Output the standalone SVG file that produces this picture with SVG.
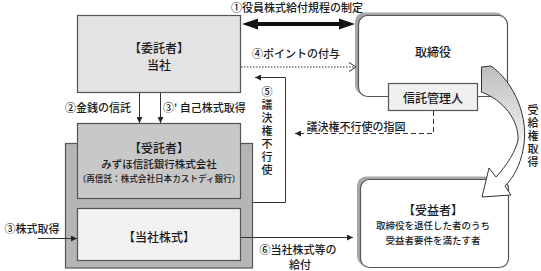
<svg xmlns="http://www.w3.org/2000/svg" width="541" height="271" viewBox="0 0 541 271">
<defs>
<style>
text{font-family:"Noto Sans CJK JP","Noto Sans CJK SC",sans-serif;fill:#1a1a1a;dominant-baseline:central;font-weight:500;}
.c{text-anchor:middle;}
.box{stroke:#555;stroke-width:1.2;}
.ln{stroke:#333;stroke-width:1;fill:none;}
.l11{font-size:11px;}
.t12{font-size:12px;}
.v{font-size:11px;writing-mode:vertical-rl;letter-spacing:2px;text-anchor:start;}
</style>
<marker id="ah" viewBox="0 0 6 6" markerWidth="6" markerHeight="6" refX="6" refY="3" orient="auto" markerUnits="userSpaceOnUse">
<path d="M0,0 L6,3 L0,6 z" fill="#222"/>
</marker>
<linearGradient id="g" x1="0" y1="66" x2="0" y2="160" gradientUnits="userSpaceOnUse">
<stop offset="0" stop-color="#bdbdbd"/>
<stop offset="0.85" stop-color="#f4f4f4"/>
<stop offset="1" stop-color="#fff"/>
</linearGradient>
</defs>

<g id="trust-outer">
<rect x="65.5" y="143.5" width="187" height="124.5" fill="#b5b5b5" class="box"/>
</g>

<g id="itakusha">
<rect x="77.5" y="15.5" width="163" height="77" fill="#e3e3e3" class="box"/>
<text x="159" y="47" class="c t12">【委託者】</text>
<text x="159" y="64" class="c t12">当社</text>
</g>

<g id="jutakusha">
<rect x="77.5" y="123.5" width="163" height="75" fill="#c8c8c8" class="box"/>
<text x="159" y="147" class="c t12">【受託者】</text>
<text x="159" y="163" class="c" style="font-size:10.5px">みずほ信託銀行株式会社</text>
<text x="159" y="178" class="c" style="font-size:8.6px">（再信託：株式会社日本カストディ銀行）</text>
</g>

<g id="toushakabushiki">
<rect x="77.5" y="208.5" width="163" height="52" fill="#f2f2f2" class="box"/>
<text x="159" y="236" class="c t12">【当社株式】</text>
</g>

<g id="torishimariyaku">
<rect x="355" y="12.5" width="150" height="82" rx="9" fill="#a8a8a8"/>
<rect x="358.5" y="15.5" width="149" height="81" rx="9" fill="#fff" class="box"/>
<text x="433" y="51" class="c t12">取締役</text>
</g>

<g id="shintakanrinin">
<rect x="388.5" y="83.5" width="89" height="27" fill="#f0f0f0" class="box"/>
<text x="433" y="97" class="c t12">信託管理人</text>
</g>

<g id="jueki">
<rect x="357" y="176.5" width="149" height="89" rx="9" fill="#a8a8a8"/>
<rect x="360.5" y="179.5" width="148" height="88" rx="9" fill="#fff" class="box"/>
<text x="433" y="209" class="c t12">【受益者】</text>
<text x="433" y="225" class="c" style="font-size:9.5px">取締役を退任した者のうち</text>
<text x="433" y="240" class="c" style="font-size:9.5px">受益者要件を満たす者</text>
</g>

<g id="connectors">
<polygon points="242,24 258,18.5 258,22 339,22 339,18.5 355,24 339,29.5 339,26 258,26 258,29.5" fill="#111"/>
<line x1="241" y1="67" x2="355" y2="67" stroke="#333" stroke-width="1" stroke-dasharray="1.5,1.5"/>
<polyline points="349,62.5 356,67 349,71.5" class="ln"/>
<polyline points="252.5,202.5 285.5,202.5 285.5,77.5 255,77.5" class="ln" marker-end="url(#ah)"/>
<line x1="139.5" y1="93" x2="139.5" y2="123" class="ln" marker-end="url(#ah)"/>
<line x1="160.5" y1="93" x2="160.5" y2="123" class="ln" marker-end="url(#ah)"/>
<line x1="38" y1="238.5" x2="77" y2="238.5" class="ln" marker-end="url(#ah)"/>
<line x1="241" y1="237.5" x2="353" y2="237.5" class="ln" marker-end="url(#ah)"/>
<polyline points="433.5,111 433.5,133.5 295,133.5" stroke="#333" stroke-width="1" fill="none" stroke-dasharray="5,3" marker-end="url(#ah)"/>
<path d="M481.5,67 L491,66 C514,82 530,118 523,150 C520,165 514,177 505,186 L511,195 L482,197 L489,168 L496,177 C508,164 516,150 518,140 C519,120 503,100 481.5,92 Z" fill="url(#g)" stroke="#333" stroke-width="1"/>
</g>

<g id="labels">
<text x="297" y="7" class="c l11">①役員株式給付規程の制定</text>
<text x="296" y="53" class="c l11">④ポイントの付与</text>
<text x="98" y="107" class="c l11">②金銭の信託</text>
<text x="163" y="107" class="l11">③' 自己株式取得</text>
<text x="356" y="126" class="c l11">議決権不行使の指図</text>
<text x="32" y="228" class="c l11">③株式取得</text>
<text x="298" y="249" class="c l11">⑥当社株式等の</text>
<text x="300" y="264" class="c l11">給付</text>
<text x="267" y="86" class="v">⑤議決権不行使</text>
<text x="533" y="104" class="v">受給権取得</text>
</g>
</svg>
